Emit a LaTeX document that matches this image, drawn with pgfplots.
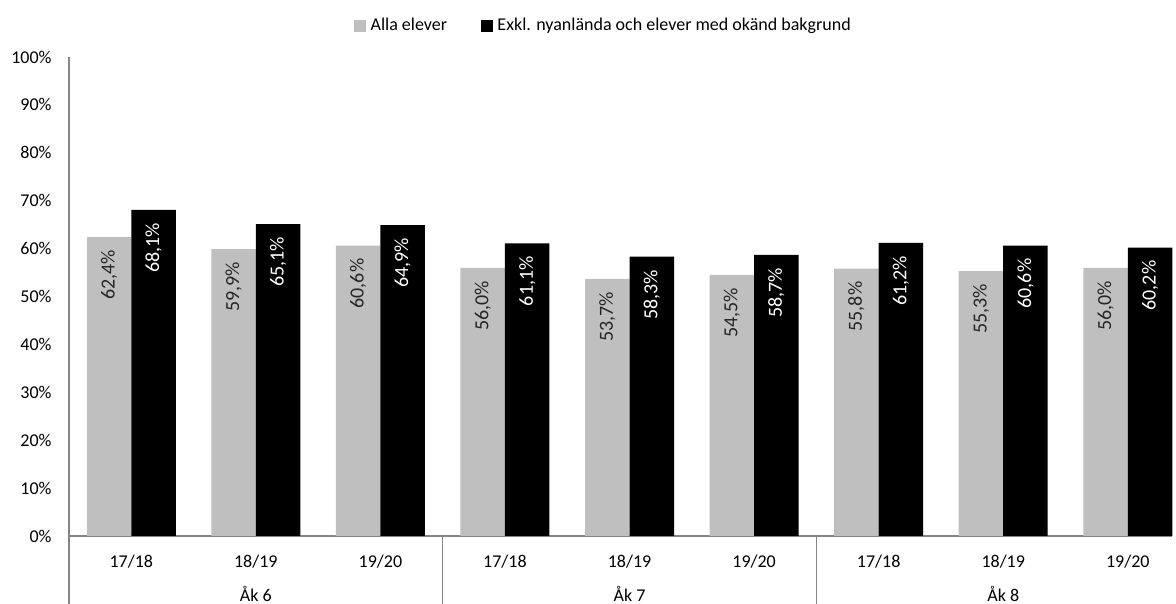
\documentclass[border=0pt]{standalone}
\usepackage{fontspec}
\setmainfont{Carlito}
\usepackage{pgfplots}
\pgfplotsset{compat=1.18}
\definecolor{barg}{RGB}{191,191,191}
\definecolor{axg}{RGB}{134,134,134}
\begin{document}
\begin{tikzpicture}
\begin{axis}[
  scale only axis, width=551.5pt, height=239.5pt,
  xmin=-0.5, xmax=8.355, ymin=0, ymax=100,
  ybar=0pt, bar width=22.25pt,
  clip=false,
  font=\fontsize{9pt}{11pt}\selectfont,
  axis lines*=left,
  axis line style={axg, line width=0.75pt},
  major tick length=0pt,
  xtick={0,...,8},
  xticklabels={17/18,18/19,19/20,17/18,18/19,19/20,17/18,18/19,19/20},
  xticklabel style={inner sep=0pt, anchor=base, yshift=-15.85pt},
  ytick={0,10,...,100},
  yticklabels={0\%,10\%,20\%,30\%,40\%,50\%,60\%,70\%,80\%,90\%,100\%},
  yticklabel style={inner sep=0pt, anchor=east, xshift=-8.5pt},
  legend columns=2,
  legend style={at={(0.4846,1.065)}, anchor=center, draw=none, fill=none,
    font=\fontsize{9pt}{11pt}\selectfont,
    nodes={inner xsep=1pt, inner ysep=1pt},
    /tikz/every even column/.append style={column sep=16pt}},
  legend image code/.code={\fill[#1] (0pt,-3pt) rectangle (6pt,3pt); \path (7.2pt,0pt);},
  nodes near coords={\pgfmathprintnumber[fixed,fixed zerofill,precision=1,use comma,assume math mode=true]{\pgfplotspointmeta}\%},
  every node near coord/.append style={rotate=90, anchor=east, inner xsep=6.3pt, inner ysep=0pt, font=\fontsize{10pt}{12pt}\selectfont},
]
\addplot[fill=barg, draw=none, every node near coord/.append style={text=black!85}] coordinates {
  (0,62.4) (1,59.9) (2,60.6) (3,56.0) (4,53.7) (5,54.5) (6,55.8) (7,55.3) (8,56.0)};
\addlegendentry{Alla elever}
\addplot[fill=black, draw=none, every node near coord/.append style={text=white}] coordinates {
  (0,68.1) (1,65.1) (2,64.9) (3,61.1) (4,58.3) (5,58.7) (6,61.2) (7,60.6) (8,60.2)};
\addlegendentry{Exkl. nyanlända och elever med okänd bakgrund}
\draw[axg, line width=0.75pt] (axis cs:-0.5,0) -- ++(0pt,-34pt);
\draw[axg, line width=0.75pt] (axis cs:2.5,0) -- ++(0pt,-34pt);
\draw[axg, line width=0.75pt] (axis cs:5.5,0) -- ++(0pt,-34pt);
\node[anchor=base, yshift=-33pt, inner sep=0pt] at (axis cs:1,0) {Åk 6};
\node[anchor=base, yshift=-33pt, inner sep=0pt] at (axis cs:4,0) {Åk 7};
\node[anchor=base, yshift=-33pt, inner sep=0pt] at (axis cs:7,0) {Åk 8};
\path (rel axis cs:0,0) ++(-34.5pt,-34pt) coordinate (bbSW);
\path (rel axis cs:1,1) ++(2pt,28.5pt) coordinate (bbNE);
\end{axis}
\pgfresetboundingbox
\path[use as bounding box] (bbSW) rectangle (bbNE);
\end{tikzpicture}
\end{document}
